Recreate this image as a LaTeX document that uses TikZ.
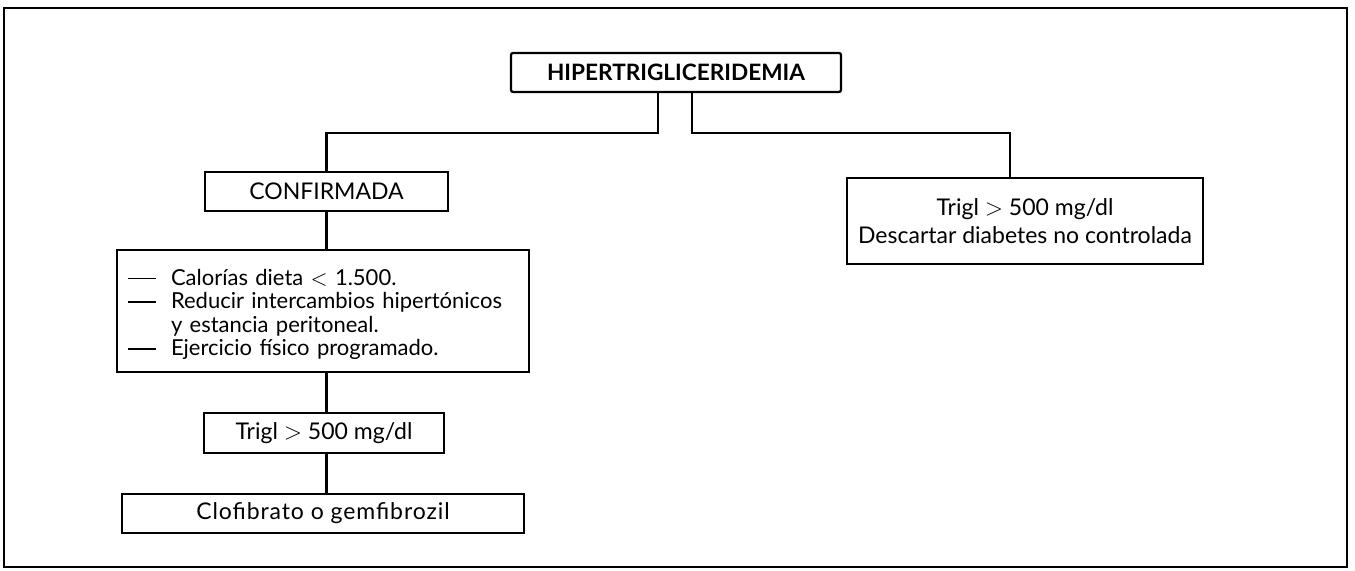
\documentclass[tikz,border=0pt]{standalone}
\usepackage{fontspec}
\setmainfont{Lato}
\newcommand{\itemdash}{\raisebox{0.55ex}{\rule{14pt}{0.8pt}}}
\begin{document}
\begin{tikzpicture}[x=0.5pt,y=-0.5pt,
  box/.style={draw, line width=1.1pt, inner sep=0pt, align=center,
    font=\fontsize{11.5}{14}\selectfont},
  link/.style={line width=1.1pt},
  frame/.style={line width=1.3pt},
]
\useasboundingbox (0,0) rectangle (1355,571);
% outer frame
\draw[frame] (4,8) rectangle (1347,567);

% boxes
\node[box, rounded corners=1pt, minimum width=165pt, minimum height=19.5pt,
  font=\fontsize{11.3}{14}\selectfont\bfseries] (top) at (676,72.5) {HIPERTRIGLICERIDEMIA};
\node[box, minimum width=121.5pt, minimum height=19.5pt] (conf) at (326.5,191.5) {CONFIRMADA};
\node[box, minimum width=178pt, minimum height=43pt] (diab) at (1025,221)
  {Trigl $>$ 500 mg/dl\\Descartar diabetes no controlada};
\node[box, minimum width=201pt, minimum height=61pt, text width=195pt, align=left,
  inner xsep=5.5pt, font=\fontsize{11}{11.75}\selectfont] (list) at (323,311)
  {\raisebox{-2.5pt}[\height][\depth]{\begin{tabular}{@{}l@{\hspace{7.5pt}}l@{}}
   \itemdash & Calorías dieta $<$ 1.500.\\
   \itemdash & Reducir intercambios hipertónicos\\
     & y estancia peritoneal.\\
   \itemdash & Ejercicio físico programado.
   \end{tabular}}};
\node[box, minimum width=120pt, minimum height=20pt] (trig) at (324,433) {Trigl $>$ 500 mg/dl};
\node[box, minimum width=201pt, minimum height=19.5pt] (clof) at (323,513.5)
  {\addfontfeatures{LetterSpace=4}Clofibrato o gemfibrozil};

% connectors
\draw[link] ([xshift=-9pt]top.south) -- ++(0,40) -| (conf.north);
\draw[link] ([xshift=8pt]top.south) -- ++(0,40) -| ([xshift=-7.5pt]diab.north);
\draw[link] (conf.south) -- (conf.south |- list.north);
\draw[link] (conf.south |- list.south) -- (conf.south |- trig.north);
\draw[link] (conf.south |- trig.south) -- (conf.south |- clof.north);
\end{tikzpicture}
\end{document}
